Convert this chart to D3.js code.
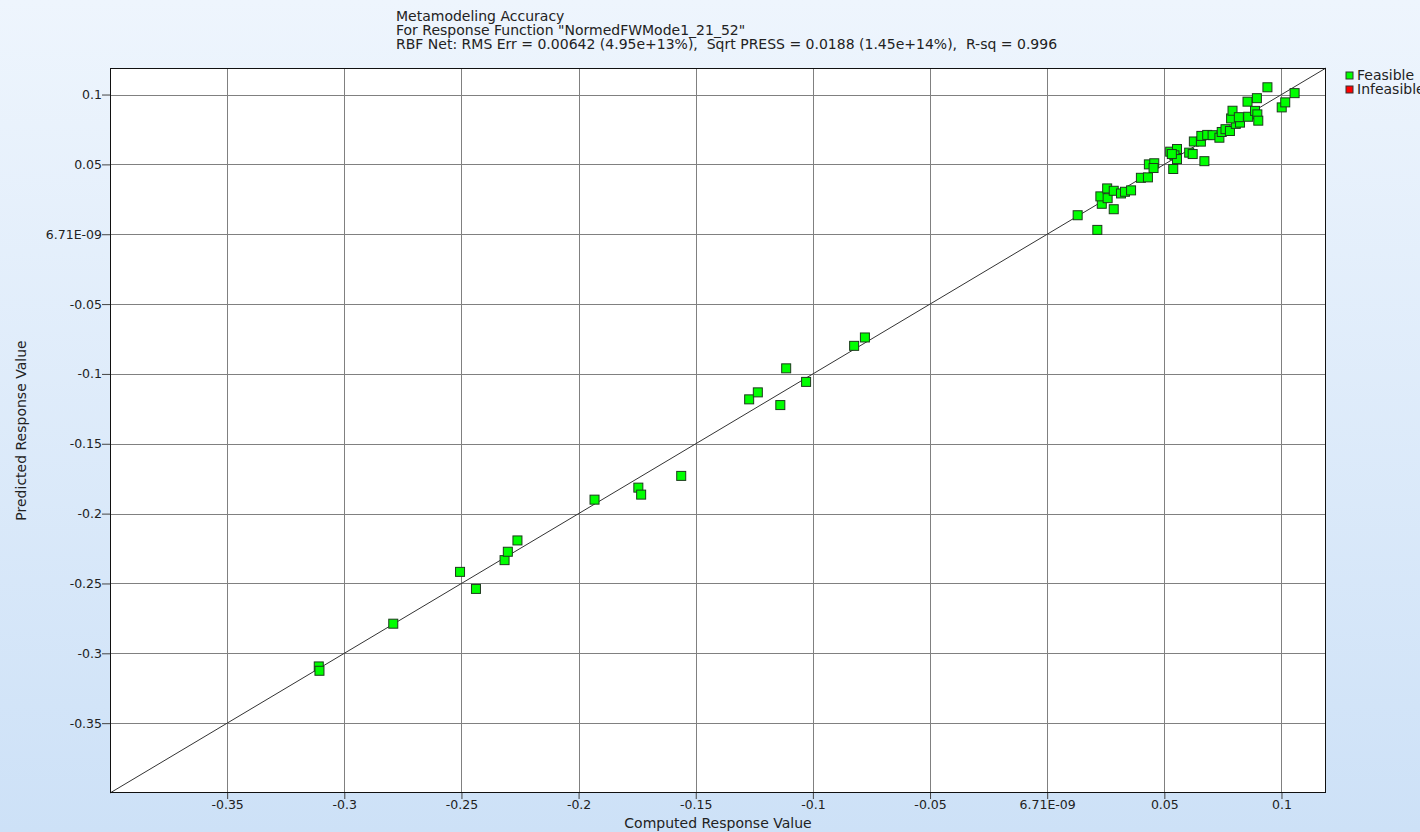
<!DOCTYPE html>
<html>
<head>
<meta charset="utf-8">
<script src="https://cdn.jsdelivr.net/npm/d3@7"></script>
<style>
  html, body { margin: 0; padding: 0; overflow: hidden; }
  body { width: 1420px; height: 832px; }
  text { font-family: "DejaVu Sans", sans-serif; fill: #222; }
</style>
</head>
<body>
<div id="chart"></div>
<script>
// computed (x) vs predicted (y) response values
const computed = [
  -0.3109, -0.3106, -0.2791, -0.2506, -0.2438, -0.2316, -0.2302, -0.2261,
  -0.1932, -0.1745, -0.1733, -0.1562, -0.1272, -0.1235, -0.1139, -0.1114,
  -0.1029, -0.0824, -0.0778,
  0.0130, 0.0214, 0.0284, 0.0233, 0.0227, 0.0258, 0.0256, 0.0284, 0.0315,
  0.0332, 0.0358, 0.0400, 0.0430, 0.0434, 0.0457, 0.0454, 0.0538, 0.0525,
  0.0554, 0.0543, 0.0554, 0.0532, 0.0606, 0.0621, 0.0671, 0.0626, 0.0656,
  0.0658, 0.0683, 0.0706, 0.0735, 0.0745, 0.0761, 0.0780, 0.0805, 0.0823,
  0.0785, 0.0791, 0.0818, 0.0858, 0.0855, 0.0895, 0.0887, 0.0897, 0.0901,
  0.0940, 0.1001, 0.1016, 0.1056
];
const predicted = [
  -0.3094, -0.3125, -0.2788, -0.2417, -0.2539, -0.2333, -0.2273, -0.2192,
  -0.1900, -0.1814, -0.1864, -0.1730, -0.1182, -0.1132, -0.1223, -0.0960,
  -0.1057, -0.0799, -0.0739,
  0.0136, 0.0031, 0.0179, 0.0218, 0.0271, 0.0258, 0.0328, 0.0311, 0.0292,
  0.0304, 0.0314, 0.0404, 0.0407, 0.0500, 0.0508, 0.0474, 0.0467, 0.0591,
  0.0610, 0.0565, 0.0538, 0.0574, 0.0584, 0.0574, 0.0523, 0.0664, 0.0663,
  0.0704, 0.0711, 0.0709, 0.0691, 0.0732, 0.0752, 0.0739, 0.0790, 0.0799,
  0.0829, 0.0884, 0.0838, 0.0841, 0.0949, 0.0974, 0.0883, 0.0858, 0.0813,
  0.1052, 0.0908, 0.0944, 0.1010
];
const tickValues = [-0.35, -0.3, -0.25, -0.2, -0.15, -0.1, -0.05, 0, 0.05, 0.1];
const tickLabels = ['-0.35', '-0.3', '-0.25', '-0.2', '-0.15', '-0.1', '-0.05', '6.71E-09', '0.05', '0.1'];
const axisDomain = [-0.4, 0.119];
const titleLines = [
  'Metamodeling Accuracy',
  'For Response Function "NormedFWMode1_21_52"',
  'RBF Net: RMS Err = 0.00642 (4.95e+13%),  Sqrt PRESS = 0.0188 (1.45e+14%),  R-sq = 0.996'
];
const legendItems = [
  { label: 'Feasible', color: '#00ff00' },
  { label: 'Infeasible', color: '#ff0000' }
];

const W = 1420, H = 832;
const margin = { top: 68, right: 94, bottom: 39, left: 110 };
const width = W - margin.left - margin.right;
const height = H - margin.top - margin.bottom;

const svg = d3.select('#chart').append('svg')
  .attr('width', W)
  .attr('height', H);

// background gradient
const grad = svg.append('defs').append('linearGradient')
  .attr('id', 'bg')
  .attr('x1', 0).attr('y1', 0).attr('x2', 0).attr('y2', 1);
grad.append('stop').attr('offset', '0%').attr('stop-color', '#eef5fd');
grad.append('stop').attr('offset', '100%').attr('stop-color', '#cde1f7');
svg.append('rect').attr('width', W).attr('height', H).attr('fill', 'url(#bg)');

const g = svg.append('g')
  .attr('transform', `translate(${margin.left},${margin.top})`);

const x = d3.scaleLinear().domain(axisDomain).range([0, width]);
const y = d3.scaleLinear().domain(axisDomain).range([height, 0]);

g.append('rect')
  .attr('width', width)
  .attr('height', height)
  .attr('fill', '#fff');

// grid
g.append('g').selectAll('line')
  .data(tickValues)
  .join('line')
  .attr('x1', d => Math.round(x(d)) + 0.5).attr('x2', d => Math.round(x(d)) + 0.5)
  .attr('y1', 0).attr('y2', height)
  .attr('stroke', '#808080');
g.append('g').selectAll('line')
  .data(tickValues)
  .join('line')
  .attr('y1', d => Math.round(y(d)) + 0.5).attr('y2', d => Math.round(y(d)) + 0.5)
  .attr('x1', 0).attr('x2', width)
  .attr('stroke', '#808080');

// axes
const xAxis = g.append('g')
  .attr('transform', `translate(0,${height})`)
  .call(d3.axisBottom(x).tickValues(tickValues)
    .tickFormat((d, i) => tickLabels[i]).tickSize(6).tickSizeOuter(0));
const yAxis = g.append('g')
  .call(d3.axisLeft(y).tickValues(tickValues)
    .tickFormat((d, i) => tickLabels[i]).tickSize(8).tickSizeOuter(0));
[xAxis, yAxis].forEach(a => {
  a.select('.domain').remove();
  a.selectAll('line').attr('stroke', '#444');
  a.selectAll('text')
    .style('font-family', '"DejaVu Sans", sans-serif')
    .style('font-size', '12.5px')
    .attr('fill', '#222');
});
xAxis.selectAll('text').attr('y', 7).attr('dy', '0.71em');
yAxis.selectAll('text').attr('x', -8);

// y = x reference line
g.append('line')
  .attr('x1', x(axisDomain[0])).attr('y1', y(axisDomain[0]))
  .attr('x2', x(axisDomain[1])).attr('y2', y(axisDomain[1]))
  .attr('stroke', '#333')
  .attr('stroke-width', 1);

// border
g.append('rect')
  .attr('x', 0.5).attr('y', 0.5)
  .attr('width', width - 1).attr('height', height - 1)
  .attr('fill', 'none')
  .attr('stroke', '#111');

// points
const pts = computed.map((c, i) => ({ c, p: predicted[i] }));
const s = 9;
g.append('g').selectAll('rect')
  .data(pts)
  .join('rect')
  .attr('x', d => x(d.c) - s / 2)
  .attr('y', d => y(d.p) - s / 2)
  .attr('width', s)
  .attr('height', s)
  .attr('fill', '#00ff00')
  .attr('stroke', '#1d3b1d')
  .attr('stroke-width', 1);

// title
svg.append('g').selectAll('text')
  .data(titleLines)
  .join('text')
  .attr('x', 396)
  .attr('y', (d, i) => 21 + i * 14)
  .style('font-size', '14px')
  .style('white-space', 'pre')
  .text(d => d);

// axis titles
svg.append('text')
  .attr('x', margin.left + width / 2)
  .attr('y', 828)
  .attr('text-anchor', 'middle')
  .style('font-size', '14px')
  .text('Computed Response Value');
svg.append('text')
  .attr('transform', `translate(26,${margin.top + height / 2}) rotate(-90)`)
  .attr('text-anchor', 'middle')
  .style('font-size', '14px')
  .text('Predicted Response Value');

// legend
const leg = svg.append('g').attr('transform', 'translate(1346,72)');
const li = leg.selectAll('g')
  .data(legendItems)
  .join('g')
  .attr('transform', (d, i) => `translate(0,${i * 14})`);
li.append('rect')
  .attr('width', 7).attr('height', 7)
  .attr('fill', d => d.color)
  .attr('stroke', '#333');
li.append('text')
  .attr('x', 11).attr('y', 8)
  .style('font-size', '14px')
  .text(d => d.label);
</script>
</body>
</html>
